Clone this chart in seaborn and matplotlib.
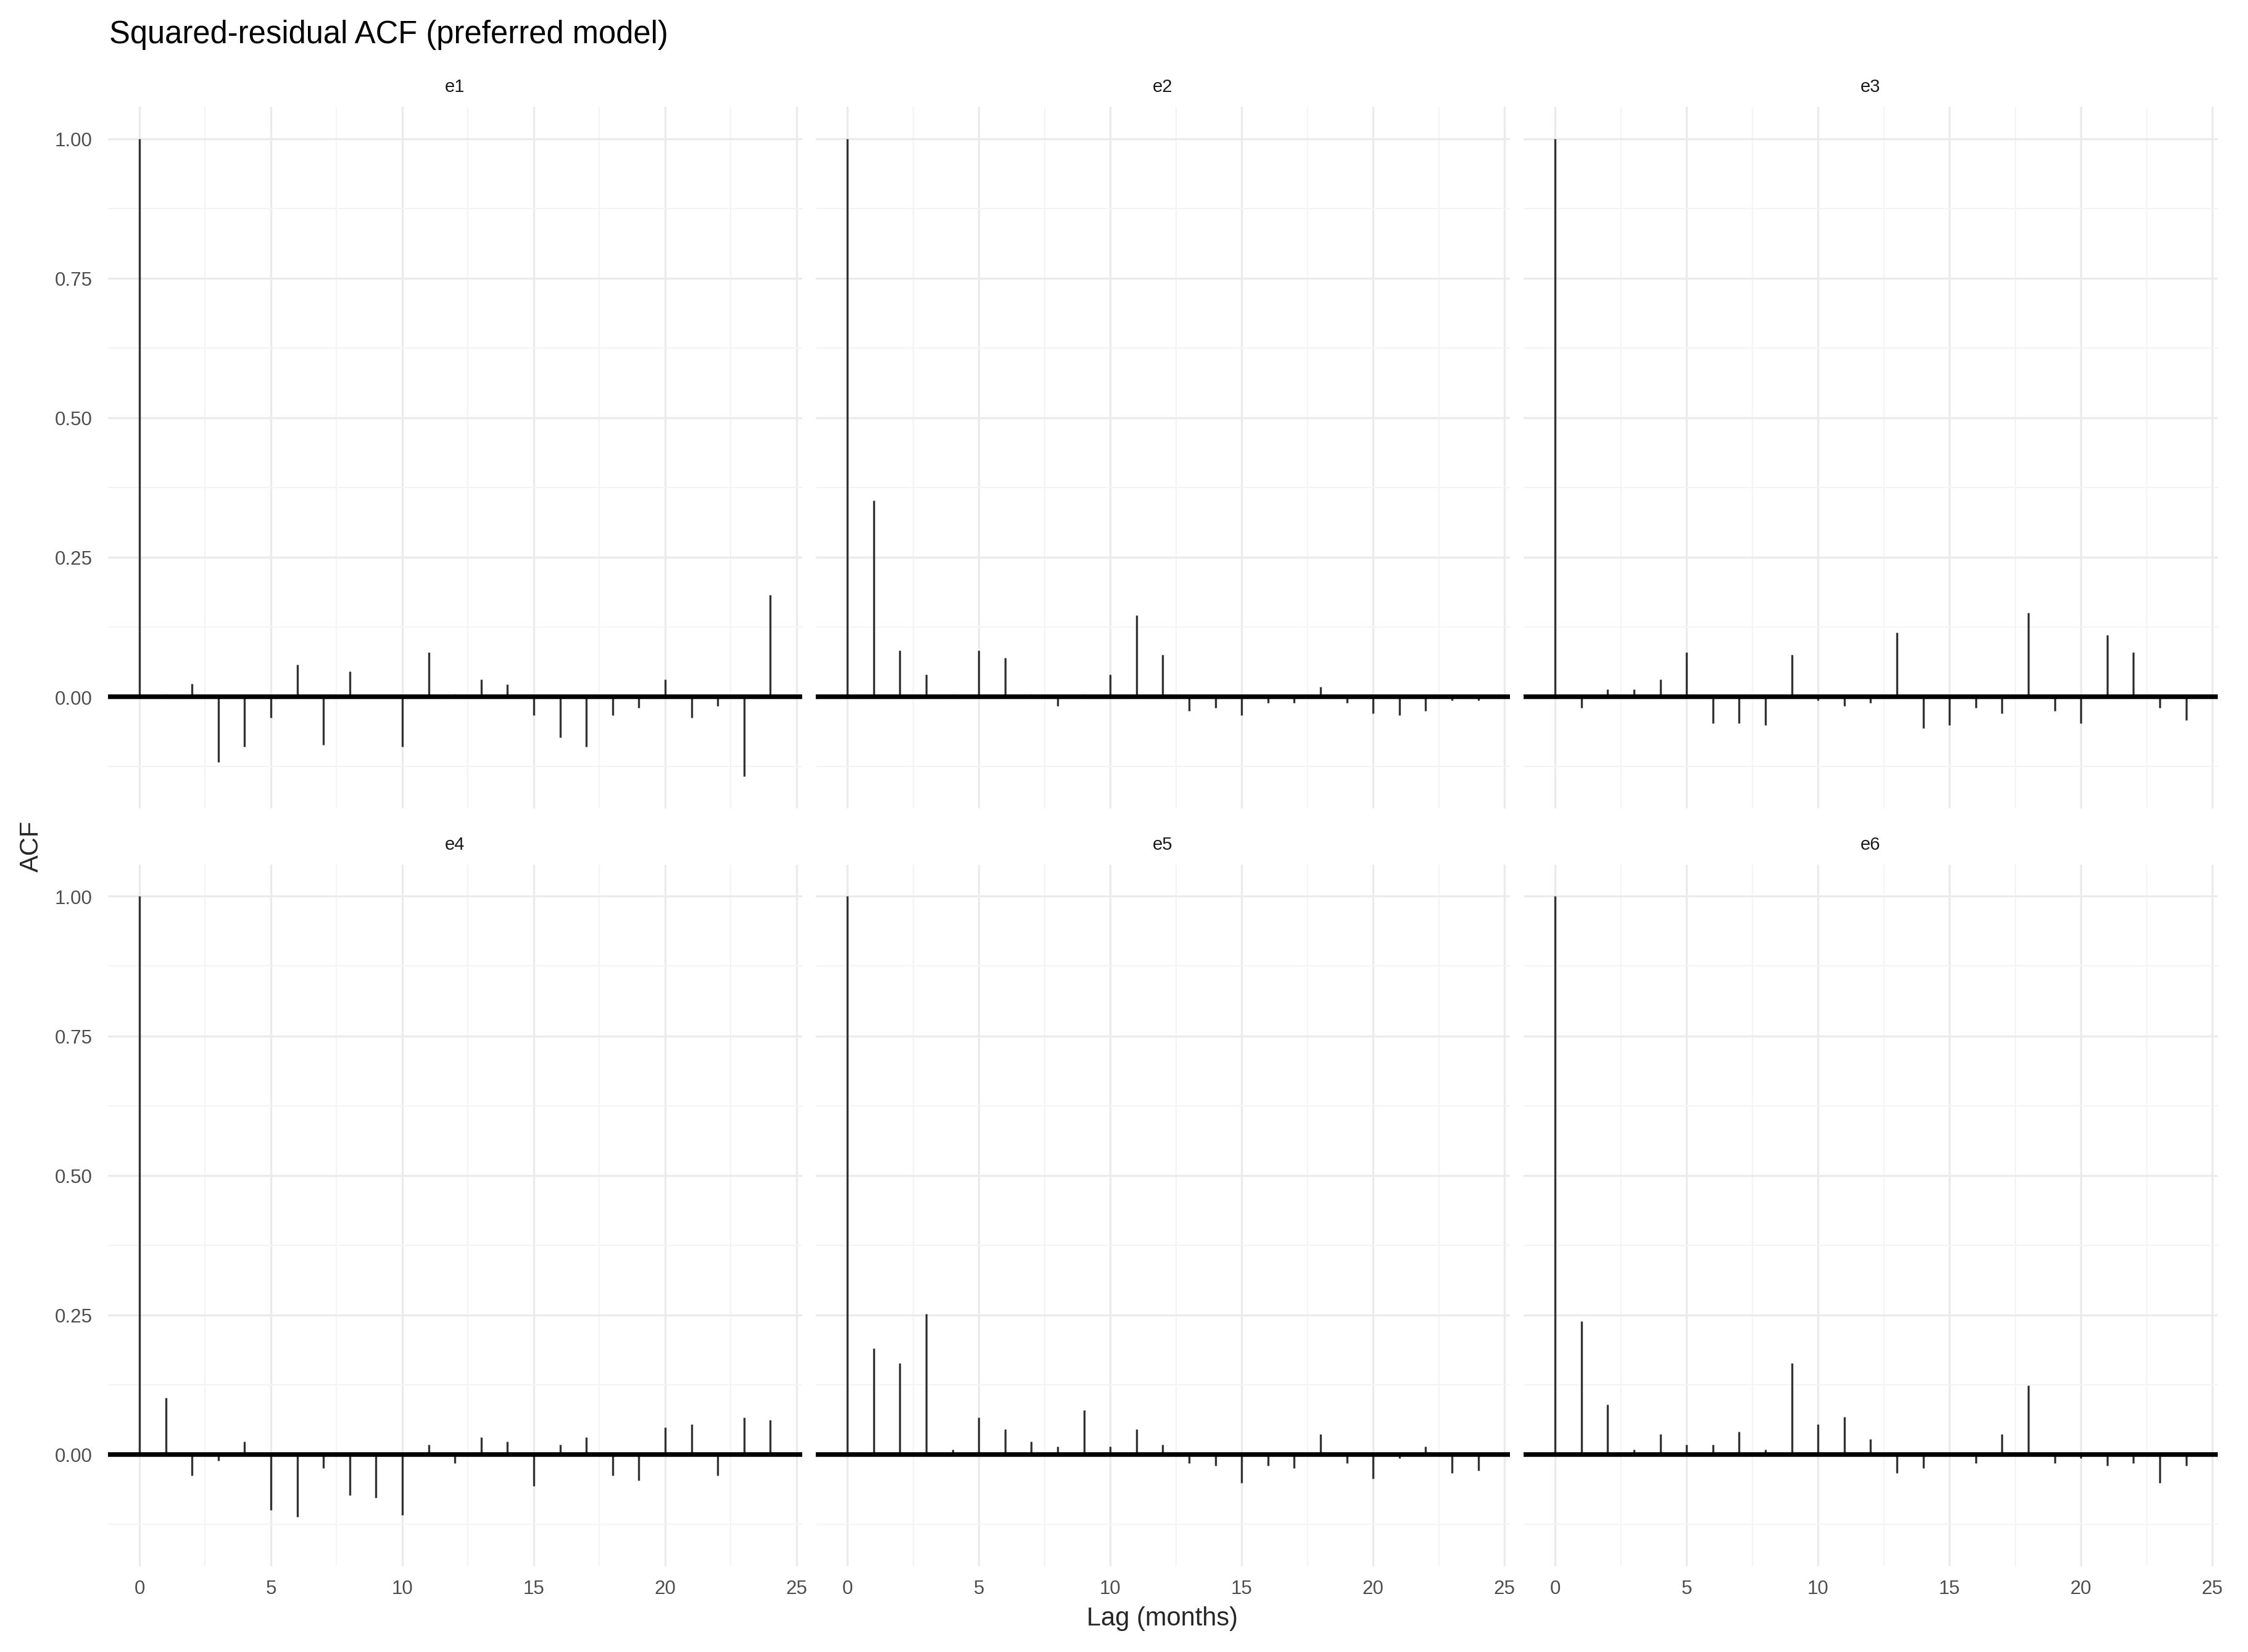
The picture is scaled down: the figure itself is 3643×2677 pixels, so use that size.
import pandas as pd
import seaborn as sns
import matplotlib.pyplot as plt
from matplotlib.ticker import MultipleLocator

# squared-residual ACF values, lags 0..24
lags = list(range(25))
series = ["e1", "e2", "e3", "e4", "e5", "e6"]

e1 = [1.0, 0.005, 0.023, -0.117, -0.090, -0.037, 0.057, -0.086, 0.045, -0.001,
      -0.090, 0.080, 0.005, 0.031, 0.022, -0.033, -0.073, -0.090, -0.033, -0.020,
      0.031, -0.038, -0.016, -0.143, 0.182]
e2 = [1.0, 0.352, 0.083, 0.040, 0.005, 0.083, 0.070, 0.005, -0.016, 0.005,
      0.040, 0.146, 0.075, -0.025, -0.020, -0.033, -0.011, -0.011, 0.018, -0.011,
      -0.030, -0.033, -0.025, -0.007, -0.007]
e3 = [1.0, -0.020, 0.013, 0.013, 0.031, 0.080, -0.047, -0.047, -0.051, 0.075,
      -0.007, -0.016, -0.011, 0.115, -0.056, -0.051, -0.020, -0.030, 0.150, -0.025,
      -0.047, 0.111, 0.080, -0.020, -0.042]
e4 = [1.0, 0.102, -0.038, -0.011, 0.023, -0.100, -0.112, -0.025, -0.073, -0.078,
      -0.109, 0.018, -0.016, 0.031, 0.023, -0.056, 0.018, 0.031, -0.038, -0.047,
      0.049, 0.054, -0.038, 0.066, 0.062]
e5 = [1.0, 0.190, 0.164, 0.252, 0.009, 0.066, 0.045, 0.023, 0.014, 0.080,
      0.014, 0.045, 0.018, -0.016, -0.020, -0.051, -0.020, -0.025, 0.036, -0.016,
      -0.043, -0.007, 0.014, -0.033, -0.029]
e6 = [1.0, 0.239, 0.089, 0.009, 0.036, 0.018, 0.018, 0.041, 0.009, 0.164,
      0.054, 0.067, 0.027, -0.033, -0.025, 0.002, -0.016, 0.036, 0.124, -0.016,
      -0.007, -0.020, -0.016, -0.051, -0.020]

acf_values = [e1, e2, e3, e4, e5, e6]
df = pd.concat([pd.DataFrame({"lag": lags, "acf": v, "series": name})
                for name, v in zip(series, acf_values)], ignore_index=True)

sns.set_theme(style="whitegrid")
plt.rcParams["font.family"] = ["Liberation Sans", "DejaVu Sans"]

g = sns.FacetGrid(df, col="series", col_wrap=3, sharex=True, sharey=True,
                  height=4, aspect=1.36, despine=False)


def stems(data, **kws):
    ax = plt.gca()
    ax.vlines(data["lag"], 0, data["acf"], color="#333333", linewidth=0.8, zorder=2)
    ax.axhline(0, color="black", linewidth=1.8, zorder=3)


g.map_dataframe(stems)
g.set_titles("{col_name}", size=7, color="#1a1a1a", pad=6)
g.set_axis_labels("", "")

fig = g.figure
fig.set_size_inches(3643 / 300, 2678 / 300)
fig.subplots_adjust(left=0.048, right=0.9865, top=0.935, bottom=0.052,
                    wspace=0.02, hspace=0.08)

for ax in g.axes.flat:
    ax.set_xlim(-1.2, 25.2)
    ax.set_ylim(-0.2, 1.057)
    ax.set_xticks([0, 5, 10, 15, 20, 25])
    ax.set_yticks([0.0, 0.25, 0.5, 0.75, 1.0])
    ax.yaxis.set_major_formatter(plt.FuncFormatter(lambda v, p: f"{v:.2f}"))
    ax.xaxis.set_minor_locator(MultipleLocator(2.5))
    ax.yaxis.set_minor_locator(MultipleLocator(0.125))
    ax.grid(which="major", color="#ebebeb", linewidth=0.8)
    ax.grid(which="minor", color="#f4f4f4", linewidth=0.5)
    ax.set_axisbelow(True)
    ax.set_facecolor("white")
    for s in ax.spines.values():
        s.set_visible(False)
    ax.tick_params(which="both", length=0, labelsize=7.5, labelcolor="#4d4d4d")
    ax.tick_params(axis="x", pad=5)
    ax.tick_params(axis="y", pad=6)

fig.text(0.0485, 0.979, "Squared-residual ACF (preferred model)", ha="left",
         va="center", size=12.2, color="black")
fig.text(0.517, 0.0205, "Lag (months)", ha="center", va="center", size=10)
fig.text(0.014, 0.488, "ACF", ha="center", va="center", size=10, rotation=90)

fig.savefig("out.png", dpi=300, facecolor="white")
